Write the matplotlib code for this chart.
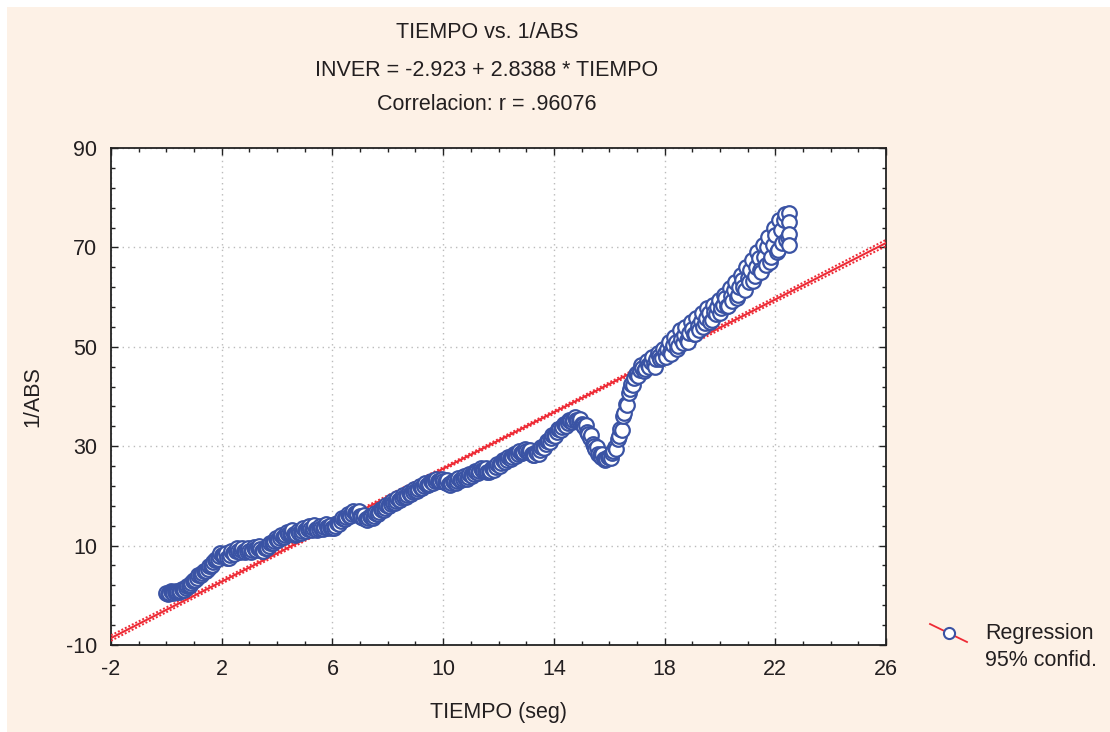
import numpy as np
import matplotlib
matplotlib.use("Agg")
import matplotlib.pyplot as plt
from matplotlib.patches import Rectangle
from matplotlib.lines import Line2D

plt.rcParams['font.family'] = ['Liberation Sans', 'DejaVu Sans']
plt.rcParams['axes.unicode_minus'] = False

# Datos (TIEMPO en seg)
# serie A: t = 0.0, 0.1, 0.2, ...
inver_a = [
    0.5, 0.5, 0.6, 0.6, 0.7, 0.8, 1.0, 1.4, 1.9, 2.4,        # 0.0 - 0.9
    3.0, 3.5, 4.0, 4.4, 4.8, 5.3, 5.9, 6.6, 7.3, 7.9,        # 1.0 - 1.9
    8.2, 8.0, 7.6, 8.2, 8.6, 8.9, 9.0, 9.1, 9.0, 8.9,        # 2.0 - 2.9
    9.0, 9.2, 9.4, 9.6, 9.3, 9.0, 9.5, 10.0, 10.5, 10.9,     # 3.0 - 3.9
    11.2, 11.5, 11.8, 12.1, 12.4, 12.5, 12.4, 12.3, 12.6, 12.9,
    13.1, 13.3, 13.4, 13.5, 13.4, 13.3, 13.5, 13.7, 13.8, 13.7,
    13.6, 14.0, 14.5, 15.0, 15.4, 15.7, 16.0, 16.3, 16.5, 16.4,
    16.0, 15.6, 15.4, 15.5, 15.7, 16.0, 16.4, 16.8, 17.2, 17.6,
    18.0, 18.3, 18.6, 18.9, 19.2, 19.5, 19.8, 20.1, 20.4, 20.7,
    21.0, 21.3, 21.6, 21.9, 22.2, 22.4, 22.7, 22.9, 23.0, 23.0,
    22.9, 22.6, 22.4, 22.5, 22.7, 23.0, 23.2, 23.4, 23.6, 23.9,
    24.2, 24.5, 24.8, 25.0, 25.2, 25.1, 24.9, 25.1, 25.4, 25.8,
    26.2, 26.6, 27.0, 27.3, 27.6, 27.9, 28.2, 28.5, 28.7, 28.9,
    29.0, 28.8, 28.4, 28.3, 28.6, 29.2, 29.8, 30.4, 31.0, 31.7,
    32.3, 32.9, 33.4, 33.9, 34.3, 34.7, 35.0, 35.2, 35.2, 35.0,
    34.5, 33.8, 32.8, 31.7, 30.5, 29.4, 28.5, 27.9, 27.5, 27.4,
    27.8, 28.6, 29.8, 31.4, 33.5, 36.0, 38.5, 40.8, 42.6, 43.8,
    44.7, 45.3, 45.8, 45.5, 46.4, 47.0, 46.6, 47.6, 48.2, 47.8,
    48.8, 49.6, 49.0, 50.3, 51.0, 50.2, 51.5, 52.3, 51.3, 52.8,
    53.6, 52.6, 54.2, 55.2, 54.0, 55.8, 56.8, 55.3, 57.0, 58.0,
    56.8, 58.5, 59.8, 58.2, 60.2, 61.5, 59.8, 62.0, 63.5, 61.5,
    63.8, 65.5, 63.2, 66.0, 67.8, 65.0, 68.0, 70.0, 67.0, 70.5,
    72.5, 69.5, 73.5, 75.5, 71.5, 77.0,                      # 22.0 - 22.5
]
# serie B: t = 0.05, 0.15, 0.25, ...
inver_b = [
    0.3, 0.8, 0.4, 0.9, 0.6, 1.2, 1.0, 1.9, 2.0, 2.9,
    3.0, 4.0, 4.0, 4.9, 4.8, 5.9, 6.0, 7.2, 7.4, 8.5,
    8.0, 8.5, 7.5, 8.9, 8.4, 9.5, 8.8, 9.6, 8.8, 9.5,
    8.8, 9.8, 9.2, 10.0, 8.9, 9.6, 9.6, 10.6, 10.6, 11.5,
    11.2, 12.1, 11.8, 12.8, 12.4, 13.1, 12.2, 12.9, 12.6, 13.5,
    13.0, 13.9, 13.2, 14.1, 13.2, 13.9, 13.4, 14.3, 13.6, 14.2,
    13.6, 14.6, 14.4, 15.6, 15.3, 16.3, 16.0, 16.9, 16.4, 16.9,
    15.8, 16.1, 15.1, 16.0, 15.5, 16.6, 16.3, 17.4, 17.1, 18.2,
    17.9, 18.9, 18.5, 19.5, 19.1, 20.1, 19.7, 20.7, 20.3, 21.3,
    20.9, 21.9, 21.5, 22.5, 22.1, 23.0, 22.6, 23.5, 22.9, 23.5,
    22.7, 23.1, 22.2, 23.0, 22.6, 23.6, 23.1, 24.0, 23.5, 24.5,
    24.1, 25.1, 24.7, 25.6, 25.0, 25.6, 24.8, 25.7, 25.3, 26.4,
    26.1, 27.2, 26.9, 27.9, 27.5, 28.5, 28.1, 29.1, 28.6, 29.5,
    28.8, 29.3, 28.2, 28.9, 28.4, 29.8, 29.6, 31.0, 30.8, 32.3,
    32.1, 33.5, 33.2, 34.5, 34.1, 35.3, 34.8, 35.8, 35.0, 35.5,
    34.2, 34.3, 32.4, 32.2, 30.1, 29.9, 28.2, 28.4, 27.3, 27.9,
    27.6, 29.1, 29.5, 32.0, 33.2, 36.6, 38.2, 41.5, 42.3, 44.6,
    44.2, 46.3, 45.2, 47.2, 45.9, 48.0, 46.0, 48.8, 47.5, 49.5,
    48.0, 51.0, 48.5, 52.0, 49.6, 53.3, 50.8, 54.0, 51.0, 55.0,
    52.5, 55.8, 53.4, 56.8, 54.8, 57.8, 55.0, 58.5, 56.5, 59.5,
    57.8, 60.5, 58.3, 61.8, 59.3, 63.0, 60.5, 64.5, 62.0, 66.0,
    63.0, 67.5, 64.2, 69.0, 65.5, 70.5, 66.5, 72.0, 68.0, 74.0,
    69.0, 75.5, 70.8, 76.8, 72.0,
]
# ultimos puntos repetidos en t = 22.5
extra_t = [22.5, 22.5, 22.5]
extra_inver = [75.2, 72.6, 70.4]

intercept = -2.923
slope = 2.8388

x_ticks = [-2, 2, 6, 10, 14, 18, 22, 26]
y_ticks = [-10, 10, 30, 50, 70, 90]

t_a = np.round(0.1 * np.arange(len(inver_a)), 2)
t_b = np.round(0.05 + 0.1 * np.arange(len(inver_b)), 2)
tiempo = np.concatenate([t_a, t_b, extra_t])
inver = np.concatenate([inver_a, inver_b, extra_inver])
order = np.argsort(tiempo, kind='stable')
tiempo, inver = tiempo[order], inver[order]

peach = '#FDF1E6'
txt = '#231F20'
blue = '#3A53A4'
red = '#EE2A35'
fs = 15.5

fig = plt.figure(figsize=(11.1, 7.32), dpi=100)
fig.patch.set_facecolor('white')
fig.add_artist(Rectangle((7 / 1110, 0), 1, 1 - 7 / 732, transform=fig.transFigure,
                         facecolor=peach, edgecolor='none', zorder=-10))

ax = fig.add_axes([111 / 1110, 1 - 645 / 732, 775 / 1110, 497 / 732])
ax.set_facecolor('white')
ax.set_xlim(-2, 26)
ax.set_ylim(-10, 90)
ax.set_xticks(x_ticks)
ax.set_xticks(np.arange(-2, 26.5, 1), minor=True)
ax.set_yticks(y_ticks)
ax.set_yticks(np.arange(-10, 90.5, 4), minor=True)
ax.tick_params(which='both', direction='in', top=True, right=True,
               labelsize=fs, labelcolor=txt, color='#222222')
ax.tick_params(which='major', length=5, width=1.0, pad=10)
ax.tick_params(which='minor', length=3, width=1.0)
for s in ax.spines.values():
    s.set_linewidth(1.3)
    s.set_color('#222222')
ax.grid(True, which='major', color='#BBBBBB', linestyle=(0, (1, 3)), linewidth=1.0)
ax.set_axisbelow(True)

# recta de regresion y bandas de confianza
xl = np.linspace(-2, 26, 200)
yl = intercept + slope * xl
hw = 0.3 + 0.0015 * (xl - 11) ** 2
ax.plot(xl, yl, color=red, lw=1.5, zorder=3)
ax.plot(xl, yl + hw, color=red, lw=1.4, ls=(0, (1, 1)), zorder=3)
ax.plot(xl, yl - hw, color=red, lw=1.4, ls=(0, (1, 1)), zorder=3)

ax.plot(tiempo, inver, 'o', ms=10.5, mfc='white', mec=blue, mew=1.6, ls='none', zorder=4)

ax.set_xlabel('TIEMPO (seg)', fontsize=fs, color=txt, labelpad=16)
ax.set_ylabel('1/ABS', fontsize=fs, color=txt, labelpad=16)

cx = 487 / 1110
fig.text(cx, 1 - 32 / 732, 'TIEMPO vs. 1/ABS', ha='center', va='center', fontsize=fs, color=txt)
fig.text(cx, 1 - 70 / 732, 'INVER = -2.923 + 2.8388 * TIEMPO',
         ha='center', va='center', fontsize=fs, color=txt)
fig.text(cx, 1 - 104 / 732, 'Correlacion: r = .96076',
         ha='center', va='center', fontsize=fs, color=txt)

# leyenda
fig.add_artist(Line2D([930 / 1110, 967 / 1110], [1 - 624 / 732, 1 - 642 / 732],
                      transform=fig.transFigure, color=red, lw=1.3))
fig.add_artist(Line2D([949 / 1110], [1 - 633 / 732], transform=fig.transFigure,
                      marker='o', ms=8, mfc='white', mec=blue, mew=1.5, ls='none'))
fig.text(985 / 1110, 1 - 633 / 732, 'Regression', ha='left', va='center', fontsize=fs, color=txt)
fig.text(985 / 1110, 1 - 660 / 732, '95% confid.', ha='left', va='center', fontsize=fs, color=txt)

fig.savefig('out.png', dpi=100, facecolor=fig.get_facecolor())
